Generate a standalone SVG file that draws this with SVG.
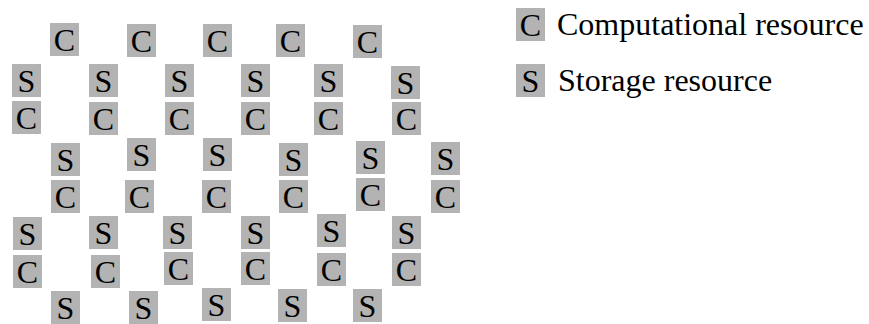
<svg xmlns="http://www.w3.org/2000/svg" width="869" height="324" viewBox="0 0 869 324">
<style>
.b{fill:#b3b3b3}
.t{font-family:"Liberation Serif","Times New Roman",serif;font-size:32px;fill:#000;text-anchor:middle}
.l{font-family:"Liberation Serif","Times New Roman",serif;font-size:32px;fill:#000}
</style>
<defs>
<g id="C"><rect class="b" width="29" height="33"/><text class="t" x="14.5" y="27.5">C</text></g>
<g id="S"><rect class="b" width="29" height="33"/><text class="t" x="14.5" y="27.5">S</text></g>
</defs>
<rect width="869" height="324" fill="#fff"/>
<g id="connectors"></g>
<g id="r1">
<g id="n1_1"><use href="#C" x="50" y="23"/></g>
<g id="n1_2"><use href="#C" x="127" y="24"/></g>
<g id="n1_3"><use href="#C" x="203" y="24"/></g>
<g id="n1_4"><use href="#C" x="276" y="24"/></g>
<g id="n1_5"><use href="#C" x="353" y="25"/></g>
</g>
<g id="r2">
<g id="n2_1"><use href="#S" x="12" y="64"/></g>
<g id="n2_2"><use href="#S" x="89" y="64"/></g>
<g id="n2_3"><use href="#S" x="165" y="64"/></g>
<g id="n2_4"><use href="#S" x="241" y="64"/></g>
<g id="n2_5"><use href="#S" x="314" y="64"/></g>
<g id="n2_6"><use href="#S" x="391" y="66"/></g>
</g>
<g id="r3">
<g id="n3_1"><use href="#C" x="12" y="101"/></g>
<g id="n3_2"><use href="#C" x="89" y="102"/></g>
<g id="n3_3"><use href="#C" x="165" y="102"/></g>
<g id="n3_4"><use href="#C" x="241" y="102"/></g>
<g id="n3_5"><use href="#C" x="314" y="102"/></g>
<g id="n3_6"><use href="#C" x="392" y="102"/></g>
</g>
<g id="r4">
<g id="n4_1"><use href="#S" x="51" y="143"/></g>
<g id="n4_2"><use href="#S" x="127" y="138"/></g>
<g id="n4_3"><use href="#S" x="203" y="138"/></g>
<g id="n4_4"><use href="#S" x="279" y="143"/></g>
<g id="n4_5"><use href="#S" x="356" y="141"/></g>
<g id="n4_6"><use href="#S" x="431" y="142"/></g>
</g>
<g id="r5">
<g id="n5_1"><use href="#C" x="51" y="180"/></g>
<g id="n5_2"><use href="#C" x="125" y="180"/></g>
<g id="n5_3"><use href="#C" x="202" y="180"/></g>
<g id="n5_4"><use href="#C" x="279" y="180"/></g>
<g id="n5_5"><use href="#C" x="356" y="178"/></g>
<g id="n5_6"><use href="#C" x="431" y="180"/></g>
</g>
<g id="r6">
<g id="n6_1"><use href="#S" x="13" y="217"/></g>
<g id="n6_2"><use href="#S" x="89" y="216"/></g>
<g id="n6_3"><use href="#S" x="163" y="216"/></g>
<g id="n6_4"><use href="#S" x="241" y="216"/></g>
<g id="n6_5"><use href="#S" x="317" y="214"/></g>
<g id="n6_6"><use href="#S" x="392" y="216"/></g>
</g>
<g id="r7">
<g id="n7_1"><use href="#C" x="13" y="255"/></g>
<g id="n7_2"><use href="#C" x="91" y="255"/></g>
<g id="n7_3"><use href="#C" x="164" y="252"/></g>
<g id="n7_4"><use href="#C" x="241" y="252"/></g>
<g id="n7_5"><use href="#C" x="317" y="253"/></g>
<g id="n7_6"><use href="#C" x="392" y="253"/></g>
</g>
<g id="r8">
<g id="n8_1"><use href="#S" x="51" y="291"/></g>
<g id="n8_2"><use href="#S" x="129" y="291"/></g>
<g id="n8_3"><use href="#S" x="202" y="288"/></g>
<g id="n8_4"><use href="#S" x="278" y="289"/></g>
<g id="n8_5"><use href="#S" x="353" y="289"/></g>
</g>
<g id="legend">
<g id="legC"><use href="#C" x="516" y="8"/><text class="l" x="557" y="35">Computational resource</text></g>
<g id="legS"><use href="#S" x="516" y="64"/><text class="l" x="558" y="91">Storage resource</text></g>
</g>
</svg>
